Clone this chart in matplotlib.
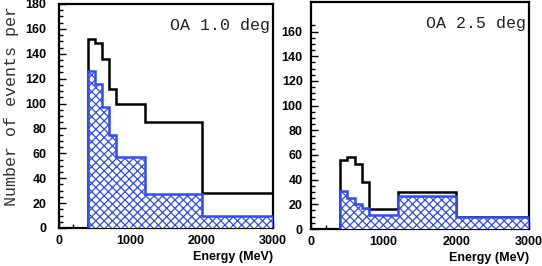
import matplotlib.pyplot as plt
import numpy as np
from matplotlib.ticker import FixedLocator, MultipleLocator

plt.rcParams["hatch.linewidth"] = 0.9

# bin edges in MeV (same for both panels)
edges = [400, 500, 600, 700, 800, 1200, 2000, 3000]

# OA 1.0 deg
all_10 = [152, 149, 136, 112, 100, 85, 28]
sel_10 = [126, 116, 97, 75, 57, 27, 9.5]

# OA 2.5 deg
all_25 = [56, 58, 53, 38, 16.5, 30, 10]
sel_25 = [30.5, 25, 20.5, 17, 11.5, 27, 9.5]

blue = "#2f4cf5"
tick_font = dict(family="Liberation Sans", weight="bold", size=9)
mono = "Liberation Mono"

fig = plt.figure(figsize=(5.42, 2.66), dpi=100)
ax1 = fig.add_axes([59 / 542, 1 - 228 / 266, 214 / 542, 224 / 266])
ax2 = fig.add_axes([311 / 542, 1 - 229 / 266, 218 / 542, 227 / 266])

panels = [
    (ax1, all_10, sel_10, "OA 1.0 deg", 180, np.arange(0, 181, 20), np.arange(0, 181, 5), 9),
    (ax2, all_25, sel_25, "OA 2.5 deg", 184, np.arange(0, 161, 20), np.arange(0, 166, 5), 6),
]

for ax, total, selected, label, ytop, majors, minors, ypad in panels:
    ax.stairs(total, edges, baseline=0, color="black", linewidth=1.8, zorder=2)
    # hatched fill, then its outline on top
    ax.stairs(selected, edges, baseline=0, fill=True, facecolor="white",
              edgecolor=blue, hatch="xxxx", linewidth=0, zorder=3)
    ax.stairs(selected, edges, baseline=0, color=blue, linewidth=1.8, zorder=4)

    ax.set_xlim(0, 3000)
    ax.set_ylim(0, ytop)
    ax.xaxis.set_major_locator(MultipleLocator(1000))
    ax.xaxis.set_minor_locator(MultipleLocator(200))
    ax.yaxis.set_major_locator(FixedLocator(majors))
    ax.yaxis.set_minor_locator(FixedLocator(minors))
    ax.tick_params(which="both", direction="in", top=False, right=False, width=1.0)
    ax.tick_params(which="major", length=5)
    ax.tick_params(which="minor", length=3)
    ax.tick_params(axis="y", pad=ypad)
    ax.tick_params(axis="x", pad=5)
    for t in ax.get_xticklabels() + ax.get_yticklabels():
        t.set_fontfamily(tick_font["family"])
        t.set_fontweight(tick_font["weight"])
        t.set_fontsize(tick_font["size"])
    for s in ax.spines.values():
        s.set_linewidth(1.6)

    ax.text(0.985, 0.905, label, transform=ax.transAxes, ha="right", va="center",
            family=mono, fontsize=12, color="#222222")
    ax.set_xlabel("Energy (MeV)", family="Liberation Sans", weight="bold",
                  fontsize=9, loc="right", labelpad=3)

fig.text(12 / 542, 1 - 106 / 266, "Number of events per", rotation=90,
         ha="center", va="center", family=mono, fontsize=12, color="#333333")

fig.savefig("out.png", dpi=100)
